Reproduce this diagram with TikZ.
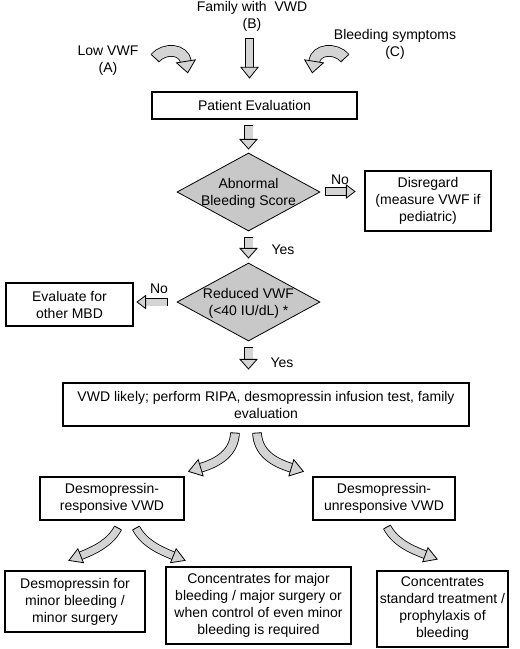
\documentclass[tikz,border=0pt]{standalone}
\usepackage{fontspec}
\setmainfont{Liberation Sans}
\usetikzlibrary{shapes.geometric,decorations.markings}
\definecolor{diamgray}{RGB}{200,200,200}
\definecolor{arrowgray}{RGB}{212,212,212}
% #1 shaft width, #2 head half width, #3 head length, #4 path
\newcommand\blockarrow[4]{%
  \draw[line width=0.8pt, double=arrowgray, double distance=#1] #4;
  \path[decorate, decoration={markings,
     mark=at position 0.0001 with {\draw[line width=0.8pt] (0,-#1/2-0.4pt) -- (0,#1/2+0.4pt);},
     mark=at position 0.998 with {\filldraw[line width=0.8pt, fill=arrowgray, line join=miter] (-0.6pt,-#2) -- (#3,0) -- (-0.6pt,#2) -- cycle;}}] #4;
}
\begin{document}
\begin{tikzpicture}[x=1pt,y=-1pt,
  txt/.style={align=center, inner sep=0pt, font=\fontsize{14}{17}\selectfont},
  box/.style={txt, draw, line width=1.6pt},
  diam/.style={diamond, draw, line width=0.8pt, fill=diamgray, inner sep=0pt, minimum width=143pt, minimum height=78pt}]
\useasboundingbox (0,0) rectangle (520,649);

% top labels
\node[txt] (famB) at (252,16) {Family with~ VWD\\(B)};
\node[txt] (lowA) at (108,61) {Low VWF\\(A)};
\node[txt] (bleedC) at (395,44) {Bleeding symptoms\\(C)};

% boxes and decisions
\node[box, minimum width=205pt, minimum height=27pt] (pe) at (254.5,105.5) {Patient Evaluation};
\node[diam] (d1) at (248.5,192) {};
\node[txt] (d1t) at (248.5,193) {Abnormal\\Bleeding Score};
\node[box, minimum width=126pt, minimum height=60pt] (dis) at (428,201) {Disregard\\(measure VWF if\\pediatric)};
\node[diam] (d2) at (248.5,302) {};
\node[txt] (d2t) at (248.5,303.5) {Reduced VWF\\(\textless40 IU/dL) *};
\node[box, minimum width=127pt, minimum height=43pt] (eval) at (69.5,304.5) {Evaluate for\\other MBD};
\node[box, minimum width=406pt, minimum height=43pt] (vwd) at (266,404.5) {VWD likely; perform RIPA, desmopressin infusion test, family\\evaluation};
\node[box, minimum width=144pt, minimum height=43pt] (resp) at (112,498.5) {Desmopressin-\\responsive VWD};
\node[box, minimum width=142pt, minimum height=43pt] (unresp) at (384,498.5) {Desmopressin-\\unresponsive VWD};
\node[box, minimum width=140pt, minimum height=61pt] (b1) at (75,601.5) {Desmopressin for\\minor bleeding /\\minor surgery};
\node[box, minimum width=185pt, minimum height=77pt] (b2) at (258.5,605.5) {Concentrates for major\\bleeding / major surgery or\\when control of even minor\\bleeding is required};
\node[box, minimum width=131pt, minimum height=76pt] (b3) at (442.5,609) {Concentrates\\standard treatment /\\prophylaxis of\\bleeding};

% branch labels
\node[txt] (no1) at (340,180) {No};
\node[txt] (yes1) at (283,250) {Yes};
\node[txt] (no2) at (159,289) {No};
\node[txt] (yes2) at (282,363) {Yes};

% arrow end points
\coordinate (aS) at (155,58);  \coordinate (aE) at (186,62);
\coordinate (bS) at (249.5,38); \coordinate (bE) at (249.5,68);
\coordinate (cS) at (345,58);  \coordinate (cE) at (314,62);
\coordinate (p1S) at (248.5,125); \coordinate (p1E) at (248.5,140);
\coordinate (n1S) at (325,191.5); \coordinate (n1E) at (347,191.5);
\coordinate (y1S) at (248.5,237); \coordinate (y1E) at (248.5,249);
\coordinate (n2S) at (167,302); \coordinate (n2E) at (145,302);
\coordinate (y2S) at (248.5,347); \coordinate (y2E) at (248.5,360);
\coordinate (lS) at (235,433); \coordinate (lE) at (200,468);
\coordinate (rS) at (257,433); \coordinate (rE) at (292,468);
\coordinate (s1S) at (118,528); \coordinate (s1E) at (80,556);
\coordinate (s2S) at (136,528); \coordinate (s2E) at (174,556);
\coordinate (s3S) at (387,527); \coordinate (s3E) at (426,555);

% block arrows
\blockarrow{10pt}{9.5pt}{11pt}{(aS) .. controls (165,47) and (184,49) .. (aE)}
\blockarrow{7pt}{8.5pt}{10pt}{(bS) -- (bE)}
\blockarrow{10pt}{9.5pt}{11pt}{(cS) .. controls (335,47) and (316,49) .. (cE)}
\blockarrow{8pt}{8.5pt}{9pt}{(p1S) -- (p1E)}
\blockarrow{7pt}{6.5pt}{8pt}{(n1S) -- (n1E)}
\blockarrow{8pt}{8.5pt}{9pt}{(y1S) -- (y1E)}
\blockarrow{7pt}{6.5pt}{8pt}{(n2S) -- (n2E)}
\blockarrow{8pt}{8.5pt}{9pt}{(y2S) -- (y2E)}
\blockarrow{8pt}{8.5pt}{12pt}{(lS) .. controls (234,452) and (220,462) .. (lE)}
\blockarrow{8pt}{8.5pt}{12pt}{(rS) .. controls (258,452) and (272,462) .. (rE)}
\blockarrow{7pt}{7.5pt}{12pt}{(s1S) .. controls (110,543) and (95,550) .. (s1E)}
\blockarrow{7pt}{7.5pt}{12pt}{(s2S) .. controls (144,543) and (159,550) .. (s2E)}
\blockarrow{7pt}{7.5pt}{12pt}{(s3S) .. controls (395,542) and (410,549) .. (s3E)}
\end{tikzpicture}
\end{document}
